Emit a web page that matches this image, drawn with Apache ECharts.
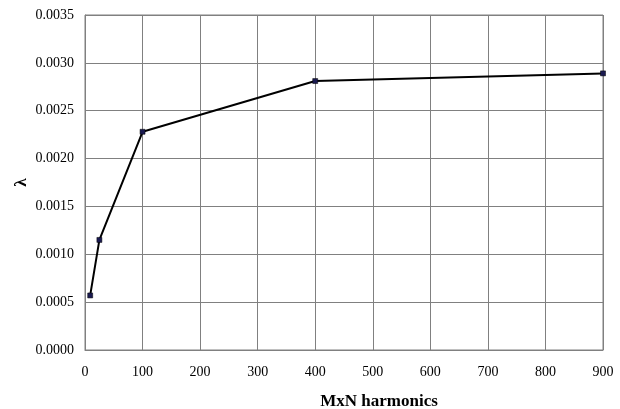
<!DOCTYPE html>
<html><head><meta charset="utf-8">
<script src="https://cdn.jsdelivr.net/npm/echarts@6/dist/echarts.min.js"></script>
<style>html,body{margin:0;padding:0;background:#fff}#c{width:620px;height:409px}</style>
</head><body><div id="c"></div>
<script>
const harmonics = [9, 25, 100, 400, 900];
const lambdaValues = [0.00057, 0.00115, 0.00228, 0.00281, 0.00289];
const xTicks = [0, 100, 200, 300, 400, 500, 600, 700, 800, 900];
const yTicks = [0, 0.0005, 0.001, 0.0015, 0.002, 0.0025, 0.003, 0.0035];

const chart = echarts.init(document.getElementById('c'));
const font = 'Liberation Serif, Times New Roman, serif';
chart.setOption({
  animation: false,
  grid: {left: 85, top: 15, right: 17, bottom: 59, show: true, borderColor: '#808080', borderWidth: 1,
    containLabel: false, outerBoundsMode: 'none'},
  xAxis: {
    type: 'value', min: xTicks[0], max: xTicks[xTicks.length - 1], interval: 100,
    name: 'MxN harmonics', nameLocation: 'middle', nameGap: 43, nameMoveOverlap: false,
    nameTextStyle: {fontFamily: font, fontWeight: 'bold', fontSize: 17, color: '#000', padding: [0, 0, 0, 70]},
    axisLine: {show: true, lineStyle: {color: '#808080'}},
    axisTick: {show: false},
    axisLabel: {fontFamily: font, fontSize: 14, color: '#000', margin: 15},
    splitLine: {show: true, lineStyle: {color: '#808080', width: 1}}
  },
  yAxis: {
    type: 'value', min: yTicks[0], max: yTicks[yTicks.length - 1], interval: 0.0005,
    name: 'λ', nameLocation: 'middle', nameGap: 55, nameRotate: 90, nameMoveOverlap: false,
    nameTextStyle: {fontFamily: font, fontWeight: 'bold', fontSize: 17, color: '#000'},
    axisLine: {show: true, lineStyle: {color: '#808080'}},
    axisTick: {show: false},
    axisLabel: {fontFamily: font, fontSize: 14, color: '#000', margin: 11,
      formatter: v => v.toFixed(4)},
    splitLine: {show: true, lineStyle: {color: '#808080', width: 1}}
  },
  series: [{
    type: 'line',
    data: harmonics.map((h, i) => [h, lambdaValues[i]]),
    symbol: 'rect', symbolSize: 5,
    itemStyle: {color: '#1a1a50', borderColor: '#000', borderWidth: 0.5},
    lineStyle: {color: '#000', width: 2}
  }]
});
</script></body></html>
